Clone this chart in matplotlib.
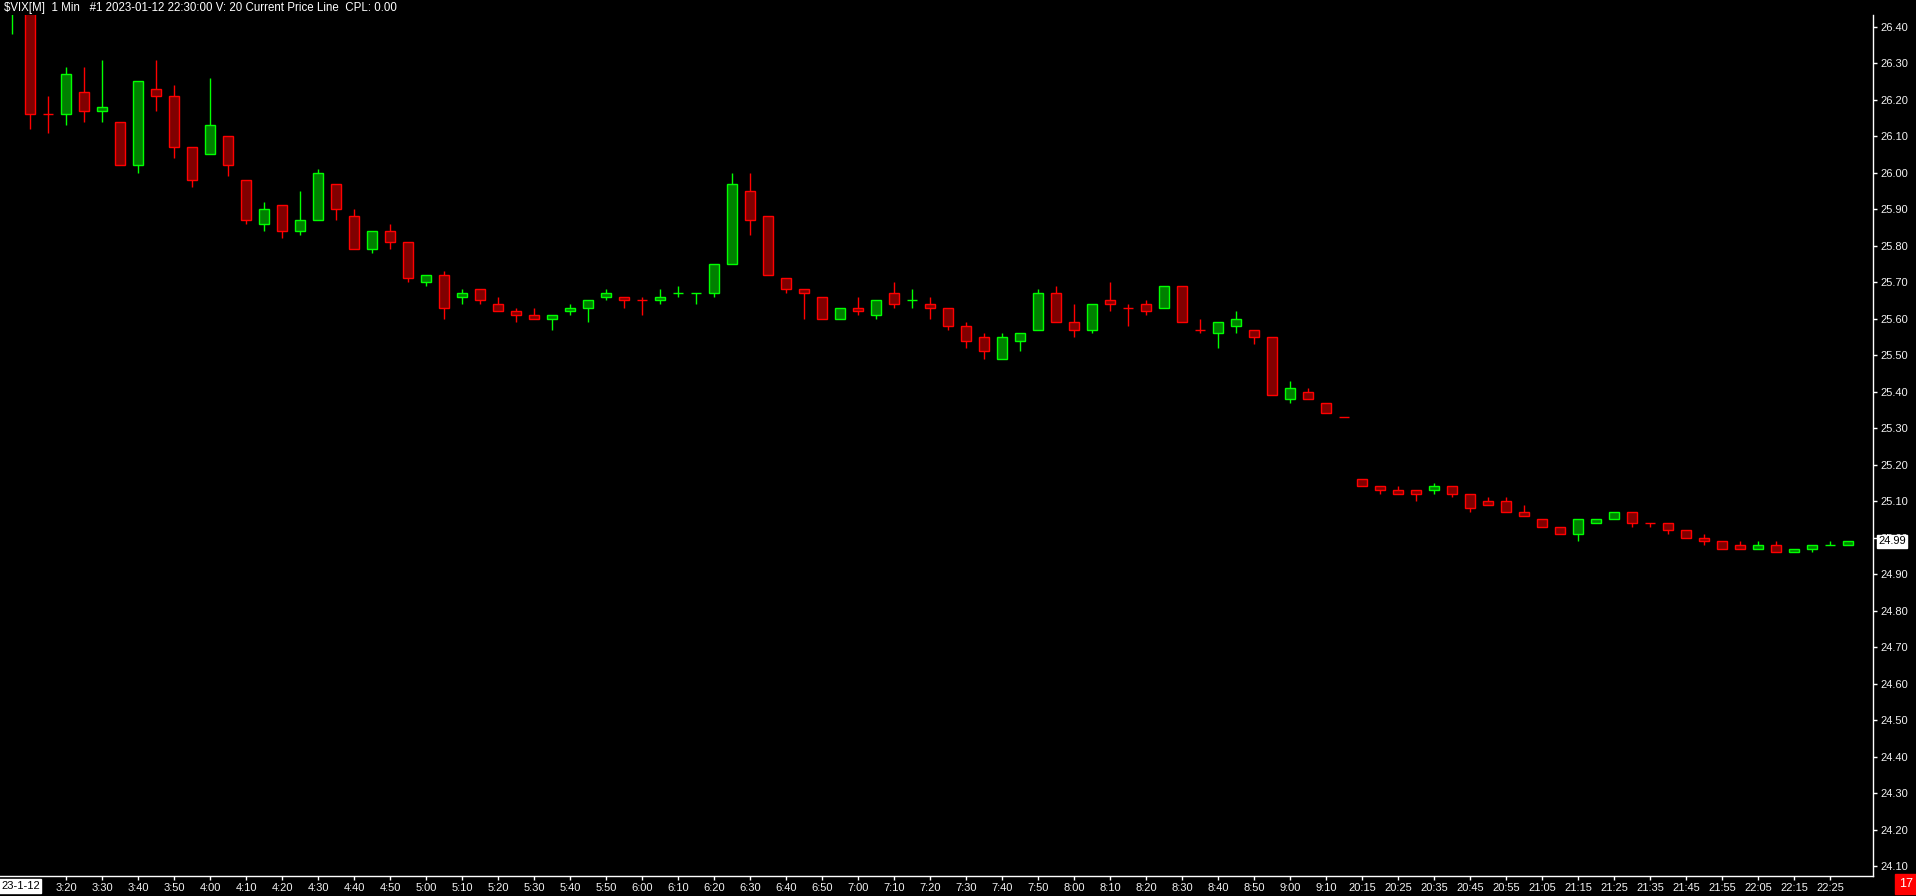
import matplotlib
matplotlib.use("Agg")
import matplotlib.pyplot as plt
from datetime import datetime, timedelta

# ---------------- data ----------------
opens = [26.44, 26.46, 26.16, 26.16, 26.22, 26.17, 26.14, 26.02, 26.23, 26.21,
         26.07, 26.05, 26.10, 25.98, 25.86, 25.91, 25.84, 25.87, 25.97, 25.88,
         25.79, 25.84, 25.81, 25.70, 25.72, 25.66, 25.68, 25.64, 25.62, 25.61,
         25.60, 25.62, 25.63, 25.66, 25.66, 25.65, 25.65, 25.67, 25.67, 25.67,
         25.75, 25.95, 25.88, 25.71, 25.68, 25.66, 25.60, 25.63, 25.61, 25.67,
         25.65, 25.64, 25.63, 25.58, 25.55, 25.49, 25.54, 25.57, 25.67, 25.59,
         25.57, 25.65, 25.63, 25.64, 25.63, 25.69, 25.57, 25.56, 25.58, 25.57,
         25.55, 25.38, 25.40, 25.37, 25.33, 25.16, 25.14, 25.13, 25.13, 25.13,
         25.14, 25.12, 25.10, 25.10, 25.07, 25.05, 25.03, 25.01, 25.04, 25.05,
         25.07, 25.04, 25.04, 25.02, 25.00, 24.99, 24.98, 24.97, 24.98, 24.96,
         24.97, 24.98, 24.98]
highs = [26.52, 26.48, 26.21, 26.29, 26.29, 26.31, 26.14, 26.25, 26.31, 26.24,
         26.07, 26.26, 26.10, 25.98, 25.92, 25.91, 25.95, 26.01, 25.97, 25.90,
         25.84, 25.86, 25.81, 25.72, 25.73, 25.68, 25.68, 25.66, 25.63, 25.63,
         25.61, 25.64, 25.65, 25.68, 25.66, 25.66, 25.68, 25.69, 25.67, 25.75,
         26.00, 26.00, 25.88, 25.71, 25.68, 25.66, 25.63, 25.66, 25.65, 25.70,
         25.68, 25.66, 25.63, 25.59, 25.56, 25.56, 25.56, 25.68, 25.69, 25.64,
         25.64, 25.70, 25.64, 25.65, 25.69, 25.69, 25.60, 25.59, 25.62, 25.57,
         25.55, 25.43, 25.41, 25.37, 25.33, 25.16, 25.14, 25.14, 25.13, 25.15,
         25.14, 25.12, 25.11, 25.11, 25.09, 25.05, 25.03, 25.05, 25.05, 25.07,
         25.07, 25.04, 25.04, 25.02, 25.01, 24.99, 24.99, 24.99, 24.99, 24.97,
         24.98, 24.99, 24.99]
lows = [26.38, 26.12, 26.11, 26.13, 26.14, 26.14, 26.02, 26.00, 26.17, 26.04,
        25.96, 26.05, 25.99, 25.86, 25.84, 25.82, 25.83, 25.87, 25.87, 25.79,
        25.78, 25.79, 25.70, 25.69, 25.60, 25.64, 25.64, 25.62, 25.59, 25.60,
        25.57, 25.61, 25.59, 25.65, 25.63, 25.61, 25.64, 25.66, 25.64, 25.66,
        25.75, 25.83, 25.72, 25.67, 25.60, 25.60, 25.60, 25.61, 25.60, 25.63,
        25.63, 25.60, 25.57, 25.52, 25.49, 25.49, 25.51, 25.57, 25.59, 25.55,
        25.56, 25.62, 25.58, 25.61, 25.63, 25.59, 25.56, 25.52, 25.56, 25.53,
        25.39, 25.37, 25.38, 25.34, 25.33, 25.14, 25.12, 25.12, 25.10, 25.12,
        25.11, 25.07, 25.09, 25.07, 25.06, 25.03, 25.01, 24.99, 25.04, 25.05,
        25.03, 25.03, 25.01, 25.00, 24.98, 24.97, 24.97, 24.97, 24.96, 24.96,
        24.96, 24.98, 24.98]
closes = [26.50, 26.16, 26.16, 26.27, 26.17, 26.18, 26.02, 26.25, 26.21, 26.07,
          25.98, 26.13, 26.02, 25.87, 25.90, 25.84, 25.87, 26.00, 25.90, 25.79,
          25.84, 25.81, 25.71, 25.72, 25.63, 25.67, 25.65, 25.62, 25.61, 25.60,
          25.61, 25.63, 25.65, 25.67, 25.65, 25.65, 25.66, 25.67, 25.67, 25.75,
          25.97, 25.87, 25.72, 25.68, 25.67, 25.60, 25.63, 25.62, 25.65, 25.64,
          25.65, 25.63, 25.58, 25.54, 25.51, 25.55, 25.56, 25.67, 25.59, 25.57,
          25.64, 25.64, 25.63, 25.62, 25.69, 25.59, 25.57, 25.59, 25.60, 25.55,
          25.39, 25.41, 25.38, 25.34, 25.33, 25.14, 25.13, 25.12, 25.12, 25.14,
          25.12, 25.08, 25.09, 25.07, 25.06, 25.03, 25.01, 25.05, 25.05, 25.07,
          25.04, 25.04, 25.02, 25.00, 24.99, 24.97, 24.97, 24.98, 24.96, 24.97,
          24.98, 24.98, 24.99]

session_starts = ["03:05", "20:15"]
session_bars = [75, 28]
bar_minutes = 5

x_tick_labels = ["3:20", "3:30", "3:40", "3:50", "4:00", "4:10", "4:20", "4:30", "4:40", "4:50",
                 "5:00", "5:10", "5:20", "5:30", "5:40", "5:50", "6:00", "6:10", "6:20", "6:30",
                 "6:40", "6:50", "7:00", "7:10", "7:20", "7:30", "7:40", "7:50", "8:00", "8:10",
                 "8:20", "8:30", "8:40", "8:50", "9:00", "9:10",
                 "20:15", "20:25", "20:35", "20:45", "20:55", "21:05", "21:15", "21:25", "21:35",
                 "21:45", "21:55", "22:05", "22:15", "22:25"]
y_ticks = [round(24.10 + 0.10 * i, 2) for i in range(24)]
current_price = 24.99
title_text = "$VIX[M]  1 Min   #1 2023-01-12 22:30:00 V: 20 Current Price Line  CPL: 0.00"
date_label = "23-1-12"
bar_count_label = "17"

# ---------------- bar times ----------------
bar_times = []
for start, n in zip(session_starts, session_bars):
    t0 = datetime.strptime(start, "%H:%M")
    for k in range(n):
        t = t0 + timedelta(minutes=bar_minutes * k)
        bar_times.append(f"{t.hour}:{t.minute:02d}")
x_ticks = [bar_times.index(lbl) for lbl in x_tick_labels]

# ---------------- figure ----------------
W, H = 1916, 896
fig = plt.figure(figsize=(W / 100, H / 100), dpi=100, facecolor="black")
ax_left, ax_right, ax_top, ax_bottom = 0, 1873, 15, 876
ax = fig.add_axes([ax_left / W, (H - ax_bottom) / H, (ax_right - ax_left) / W, (ax_bottom - ax_top) / H])
ax.set_facecolor("black")

UP_FILL, UP_EDGE = "#008000", "#00FF00"
DN_FILL, DN_EDGE = "#800000", "#FF0000"
body_w = 0.55

prev_up = True
for i in range(len(opens)):
    o, h, l, c = opens[i], highs[i], lows[i], closes[i]
    if c > o:
        up = True
    elif c < o:
        up = False
    else:
        if i > 0 and c > closes[i - 1]:
            up = True
        elif i > 0 and c < closes[i - 1]:
            up = False
        else:
            up = prev_up
    prev_up = up
    fill = UP_FILL if up else DN_FILL
    edge = UP_EDGE if up else DN_EDGE
    ax.vlines(i, l, h, color=edge, linewidth=1.0, zorder=2)
    if abs(c - o) < 1e-9:
        ax.hlines(o, i - body_w / 2, i + body_w / 2, color=edge, linewidth=1.0, zorder=3)
    else:
        ax.bar(i, abs(c - o), bottom=min(o, c), width=body_w, color=fill,
               edgecolor=edge, linewidth=1.0, zorder=3)

# limits mapped from pixel layout of the reference
ax.set_ylim(24.0726, 26.432)
ax.set_xlim(-0.683, 103.37)

for s in ["top", "left"]:
    ax.spines[s].set_visible(False)
for s in ["right", "bottom"]:
    ax.spines[s].set_color("white")
    ax.spines[s].set_linewidth(1.0)

ax.yaxis.tick_right()
ax.set_yticks(y_ticks)
ax.set_yticklabels([f"{v:.2f}" for v in y_ticks])
ax.set_xticks(x_ticks)
ax.set_xticklabels(x_tick_labels)
ax.tick_params(axis="both", colors="white", length=3, width=1, direction="out",
               labelsize=8, pad=2, labelcolor="#F2F2F2")
for lbl in ax.get_xticklabels() + ax.get_yticklabels():
    lbl.set_family("Liberation Sans")

# current price label
ax.annotate(f"{current_price:.2f}", xy=(1.0, current_price), xycoords=("axes fraction", "data"),
            xytext=(3.6, 0), textcoords="offset points", ha="left", va="center",
            fontsize=8, family="Liberation Sans", color="black", zorder=10,
            bbox=dict(boxstyle="square,pad=0.12", facecolor="white", edgecolor="white"),
            annotation_clip=False)

# title
fig.text(4 / W, 1 - 8 / H, title_text, color="white", fontsize=8.3, family="Liberation Sans",
         ha="left", va="center")

# date label at the left of the time axis
fig.text(1 / W, 1 - 886 / H, date_label, color="black", fontsize=8, family="Liberation Sans",
         ha="left", va="center",
         bbox=dict(boxstyle="square,pad=0.15", facecolor="white", edgecolor="white"))

# bar count box
fig.text(1906 / W, 1 - 884 / H, bar_count_label, color="white", fontsize=9, family="Liberation Sans",
         ha="center", va="center",
         bbox=dict(boxstyle="square,pad=0.3", facecolor="#FF0000", edgecolor="#FF0000"))

fig.savefig("out.png", dpi=100, facecolor="black")
